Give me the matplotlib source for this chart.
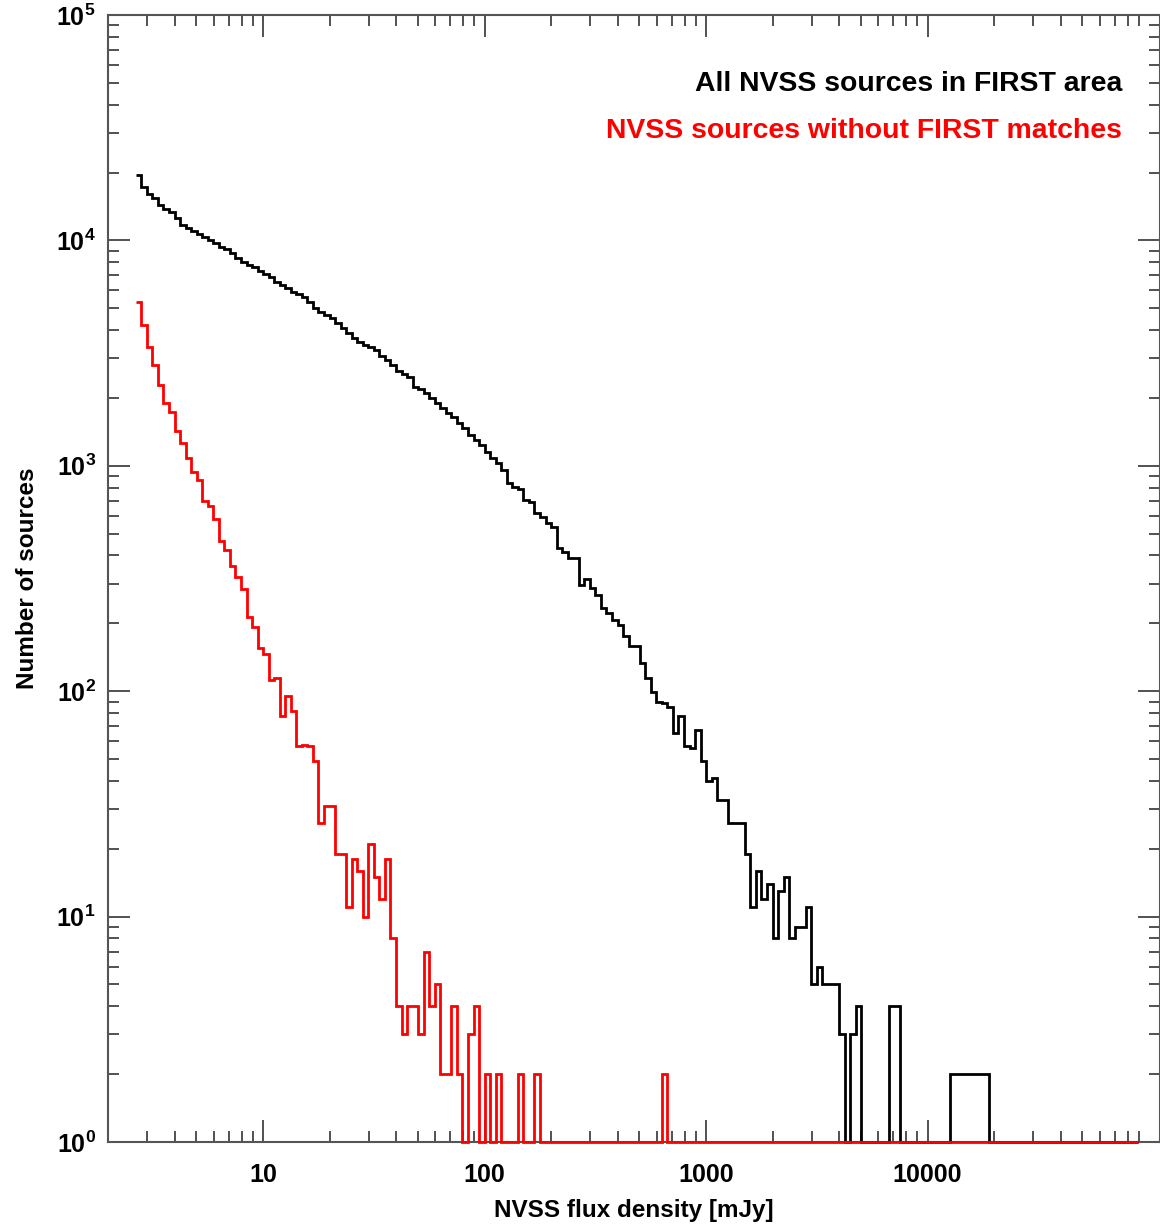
import numpy as np
import matplotlib
matplotlib.use('Agg')
import matplotlib.pyplot as plt
from matplotlib.ticker import FixedLocator, FuncFormatter, NullFormatter

plt.rcParams['font.family'] = ['Liberation Sans', 'DejaVu Sans']
plt.rcParams['font.weight'] = 'bold'
plt.rcParams['mathtext.fontset'] = 'custom'
plt.rcParams['mathtext.rm'] = 'Liberation Sans:bold'
plt.rcParams['mathtext.bf'] = 'Liberation Sans:bold'
plt.rcParams['mathtext.it'] = 'Liberation Sans:bold'

# ---- data: log-spaced flux bins (0.025 dex) and counts per bin ----
log_bin_start = 0.425
log_bin_width = 0.025
n_bins = 181
bin_edges = 10 ** (log_bin_start + log_bin_width * np.arange(n_bins + 1))

all_nvss = [19500, 17300, 16000, 15400, 14400, 13800, 13400, 12600, 11700, 11300,
            11000, 10650, 10350, 10050, 9700, 9380, 9120, 8760, 8330, 8040,
            7780, 7600, 7340, 7100, 6870, 6560, 6340, 6130, 5920, 5790,
            5600, 5350, 4990, 4830, 4670, 4510, 4320, 4080, 3870, 3700,
            3560, 3450, 3380, 3250, 3080, 2950, 2800, 2640, 2560, 2485,
            2244, 2193, 2098, 1992, 1893, 1798, 1709, 1651, 1553, 1466,
            1370, 1301, 1236, 1155, 1080, 1026, 958, 836, 803, 789,
            705, 693, 615, 595, 556, 533, 431, 415, 389, 389,
            296, 314, 286, 267, 233, 222, 208, 197, 176, 158,
            158, 133, 114, 99, 90, 89, 85, 65, 78, 57,
            56, 67, 49, 40, 41, 33, 33, 26, 26, 26,
            19, 11, 16, 12, 14, 8, 13, 15, 8, 9,
            9, 11, 5, 6, 5, 5, 5, 3, 0, 3,
            4, 0, 0, 0, 0, 0, 4, 4, 0, 0,
            0, 0, 0, 0, 0, 0, 0, 2, 2, 2,
            2, 2, 2, 2] + [0] * 27

no_first = [5350, 4200, 3380, 2800, 2280, 1890, 1740, 1420, 1260, 1080,
            940, 865, 700, 660, 580, 465, 425, 360, 320, 283,
            213, 193, 155, 146, 112, 115, 78, 95, 82, 57,
            58, 57, 49, 26, 31, 31, 19, 19, 11, 18,
            16, 10, 21, 15, 12, 18, 8, 4, 3, 4,
            4, 3, 7, 4, 5, 2, 2, 4, 2, 0,
            3, 4, 0, 2, 0, 2, 0, 0, 0, 2,
            0, 0, 2] + [0] * 22 + [2] + [0] * 85

x_major = [10, 100, 1000, 10000]
x_major_labels = ['10', '100', '1000', '10000']
y_major_exp = [0, 1, 2, 3, 4, 5]
label_all = 'All NVSS sources in FIRST area'
label_red = 'NVSS sources without FIRST matches'
xlabel = 'NVSS flux density [mJy]'
ylabel = 'Number of sources'

# ---- figure ----
W, H = 1160, 1224
fig = plt.figure(figsize=(W / 100, H / 100), dpi=100)
left_px, right_px, top_px, bottom_px = 108.3, 1160, 15, 1142
ax = fig.add_axes([left_px / W, 1 - bottom_px / H,
                   (right_px - left_px) / W, (bottom_px - top_px) / H])
ax.set_xscale('log')
ax.set_yscale('log')
ax.set_xlim(2, 10 ** (np.log10(2) + (right_px - left_px) / 221.5))
ax.set_ylim(1, 1e5)

ymin = 1
ax.stairs(np.maximum(all_nvss, ymin), bin_edges, baseline=None,
          color='black', lw=2.0, clip_on=False, zorder=3)
ax.stairs(np.maximum(no_first, ymin), bin_edges, baseline=None,
          color='#ff0000', lw=2.0, clip_on=False, zorder=4)

# ticks
ax.xaxis.set_major_locator(FixedLocator(x_major))
ax.xaxis.set_major_formatter(FuncFormatter(
    lambda v, p: x_major_labels[x_major.index(int(round(v)))] if int(round(v)) in x_major else ''))
xminor = [m * 10 ** d for d in range(0, 5) for m in range(2, 10)]
xminor = [v for v in xminor if v > 2.05]
ax.xaxis.set_minor_locator(FixedLocator(xminor))
ax.xaxis.set_minor_formatter(NullFormatter())

ax.yaxis.set_major_locator(FixedLocator([10 ** e for e in y_major_exp]))
ax.yaxis.set_major_formatter(FuncFormatter(
    lambda v, p: r'$\mathbf{10^{%d}}$' % int(round(np.log10(v)))))
yminor = [m * 10 ** d for d in range(0, 5) for m in range(2, 10)]
ax.yaxis.set_minor_locator(FixedLocator(yminor))
ax.yaxis.set_minor_formatter(NullFormatter())

ax.tick_params(which='both', direction='in', top=True, right=True,
               color='#222222', width=1.1)
ax.tick_params(which='major', length=15.8)
ax.tick_params(which='minor', length=7.9)
ax.tick_params(axis='x', which='major', pad=15, labelsize=18)
ax.tick_params(axis='y', which='major', pad=9, labelsize=18)

for s in ax.spines.values():
    s.set_color('#555555')
    s.set_linewidth(1.5)

ax.set_xlabel(xlabel, fontsize=17.5, fontweight='bold', labelpad=9)
ax.set_ylabel(ylabel, fontsize=17.5, fontweight='bold', labelpad=12)

fig.text(1122 / W, 1 - 84 / H, label_all, ha='right', va='center',
         fontsize=20.4, fontweight='bold', color='black')
fig.text(1122 / W, 1 - 131 / H, label_red, ha='right', va='center',
         fontsize=20.4, fontweight='bold', color='#ff0000')

fig.savefig('out.png', dpi=100)
